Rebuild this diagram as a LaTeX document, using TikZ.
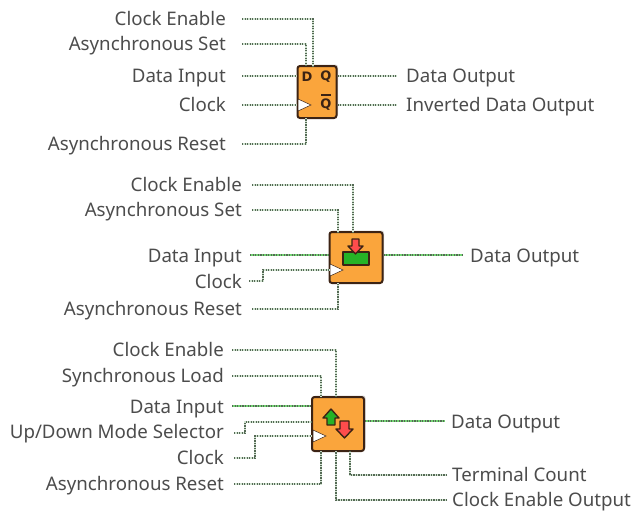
\documentclass[tikz,border=0pt]{standalone}
\usepackage{fontspec}
\setmainfont{Noto Sans}
\newfontfamily\pinfont{DejaVu Sans}
\usetikzlibrary{shadows}
\definecolor{blockorange}{RGB}{250,165,60}
\definecolor{blockedge}{RGB}{60,35,20}
\definecolor{wiregray}{RGB}{85,105,85}
\tikzset{
  lbl/.style={font=\fontsize{18.7}{20}\selectfont,text=black!70,inner ysep=0pt,inner xsep=0pt,text height=12pt,text depth=0pt},
  lblin/.style={lbl,anchor=east},
  lblout/.style={lbl,anchor=west},
  sigwire/.style={draw=wiregray,line width=1.2pt,dash pattern=on 1.2pt off 1.3pt,preaction={draw=green!40!black!18,solid,line width=1.6pt}},
  buswire/.style={draw=wiregray,line width=1.3pt,dash pattern=on 1.2pt off 1.4pt,preaction={draw=green!70!black!55,solid,line width=2.8pt}},
  blockbox/.style={draw=blockedge,fill=blockorange,line width=2pt,rounded corners=2.5pt,inner sep=0pt,drop shadow={shadow xshift=1.5pt,shadow yshift=1.5pt,opacity=0.35}},
  clkmark/.style={fill=white,draw=blockedge,line width=0.5pt},
  pinletter/.style={font=\fontsize{13}{13}\pinfont\bfseries,text=blockedge,inner sep=0pt},
  upmark/.style={draw=blockedge,fill=green!65!black!85,line width=1.4pt,line join=round},
  downmark/.style={draw=blockedge,fill=red!70!white,line width=1.4pt,line join=round}
}
\begin{document}
\begin{tikzpicture}[x=1pt,y=-1pt,line cap=butt]
\useasboundingbox (0,0) rectangle (633,515);
% flip-flop
\node[blockbox,minimum width=39pt,minimum height=52pt] (dff) at (317,92) {};
\node[pinletter] (dffd) at (307,77) {D};
\node[pinletter] (dffq) at (326,77) {Q};
\node[pinletter] (dffqn) at (326,105) {Q};
\draw[blockedge,line width=1.4pt] (321,95)--(331,95);
\draw[clkmark] (298,99)--(311,105)--(298,111)--cycle;
\node[lblin] (ce1) at (226,19) {Clock Enable};
\node[lblin] (as1) at (226,44) {Asynchronous Set};
\node[lblin] (di1) at (226,76) {Data Input};
\node[lblin] (ck1) at (226,105) {Clock};
\node[lblin] (ar1) at (226,144) {Asynchronous Reset};
\node[lblout] (do1) at (406,76) {Data Output};
\node[lblout] (qn1) at (406,105) {Inverted Data Output};
\coordinate (w1a) at (242,19);
\coordinate (w1b) at (242,44);
\coordinate (w1c) at (242,76);
\coordinate (w1d) at (242,105);
\coordinate (w1e) at (242,144);
\coordinate (w1f) at (397,76);
\coordinate (w1g) at (397,105);
\draw[sigwire] (w1a) -| (313,66);
\draw[sigwire] (w1b) -| (306,66);
\draw[sigwire] (w1c) -- (w1c -| dff.west);
\draw[sigwire] (w1d) -- (w1d -| dff.west);
\draw[sigwire] (w1e) -| (306,118);
\draw[sigwire] (w1f -| dff.east) -- (w1f);
\draw[sigwire] (w1g -| dff.east) -- (w1g);
% latch
\node[blockbox,minimum width=53pt,minimum height=51pt] (lat) at (356,257.5) {};
\draw[upmark] (343,252) rectangle (369,265);
\draw[downmark] (352,239)--(359,239)--(359,246)--(363,246)--(355.5,254)--(348,246)--(352,246)--cycle;
\draw[clkmark] (330,264)--(343,270)--(330,276)--cycle;
\node[lblin] (ce2) at (242,185) {Clock Enable};
\node[lblin] (as2) at (242,210) {Asynchronous Set};
\node[lblin] (di2) at (242,256) {Data Input};
\node[lblin] (ck2) at (242,282) {Clock};
\node[lblin] (ar2) at (242,309) {Asynchronous Reset};
\node[lblout] (do2) at (470,256) {Data Output};
\coordinate (w2a) at (252,185);
\coordinate (w2b) at (252,210);
\coordinate (w2c) at (250,255);
\coordinate (w2d) at (249,281);
\coordinate (w2e) at (252,309);
\coordinate (w2f) at (463,255);
\draw[sigwire] (w2a) -| (353,232);
\draw[sigwire] (w2b) -| (338,232);
\draw[buswire] (w2c) -- (w2c -| lat.west);
\draw[sigwire] (w2d) -| (263,270) -- (330,270);
\draw[sigwire] (w2e) -| (338,283);
\draw[buswire] (w2f -| lat.east) -- (w2f);
% counter
\node[blockbox,minimum width=52pt,minimum height=54pt] (cnt) at (338,424) {};
\draw[upmark] (327,425)--(327,418)--(323,418)--(331,409)--(339,418)--(335,418)--(335,425)--cycle;
\draw[downmark] (340,421)--(349,421)--(349,429)--(353,429)--(344.5,438)--(336,429)--(340,429)--cycle;
\draw[clkmark] (313,430)--(326,436)--(313,442)--cycle;
\node[lblin] (ce3) at (224,350) {Clock Enable};
\node[lblin] (sl3) at (224,376) {Synchronous Load};
\node[lblin] (di3) at (224,407) {Data Input};
\node[lblin] (ud3) at (224,432) {Up/Down Mode Selector};
\node[lblin] (ck3) at (224,458) {Clock};
\node[lblin] (ar3) at (224,484) {Asynchronous Reset};
\node[lblout] (do3) at (451,422) {Data Output};
\node[lblout] (tc3) at (452,475) {Terminal Count};
\node[lblout] (eo3) at (452,500) {Clock Enable Output};
\coordinate (w3a) at (232,350);
\coordinate (w3b) at (232,376);
\coordinate (w3c) at (232,406);
\coordinate (w3d) at (234,433);
\coordinate (w3e) at (234,458);
\coordinate (w3f) at (234,484);
\coordinate (w3g) at (445,421);
\coordinate (w3h) at (447,475);
\coordinate (w3i) at (447,500);
\draw[sigwire] (w3a) -| (336,397);
\draw[sigwire] (w3b) -| (321,397);
\draw[buswire] (w3c) -- (w3c -| cnt.west);
\draw[sigwire] (w3d) -| (245,422) -- (312,422);
\draw[sigwire] (w3e) -| (255,436) -- (312,436);
\draw[sigwire] (w3f) -| (321,451);
\draw[buswire] (w3g -| cnt.east) -- (w3g);
\draw[sigwire] (w3h) -| (350,451);
\draw[sigwire] (w3i) -| (336,451);
\end{tikzpicture}
\end{document}
